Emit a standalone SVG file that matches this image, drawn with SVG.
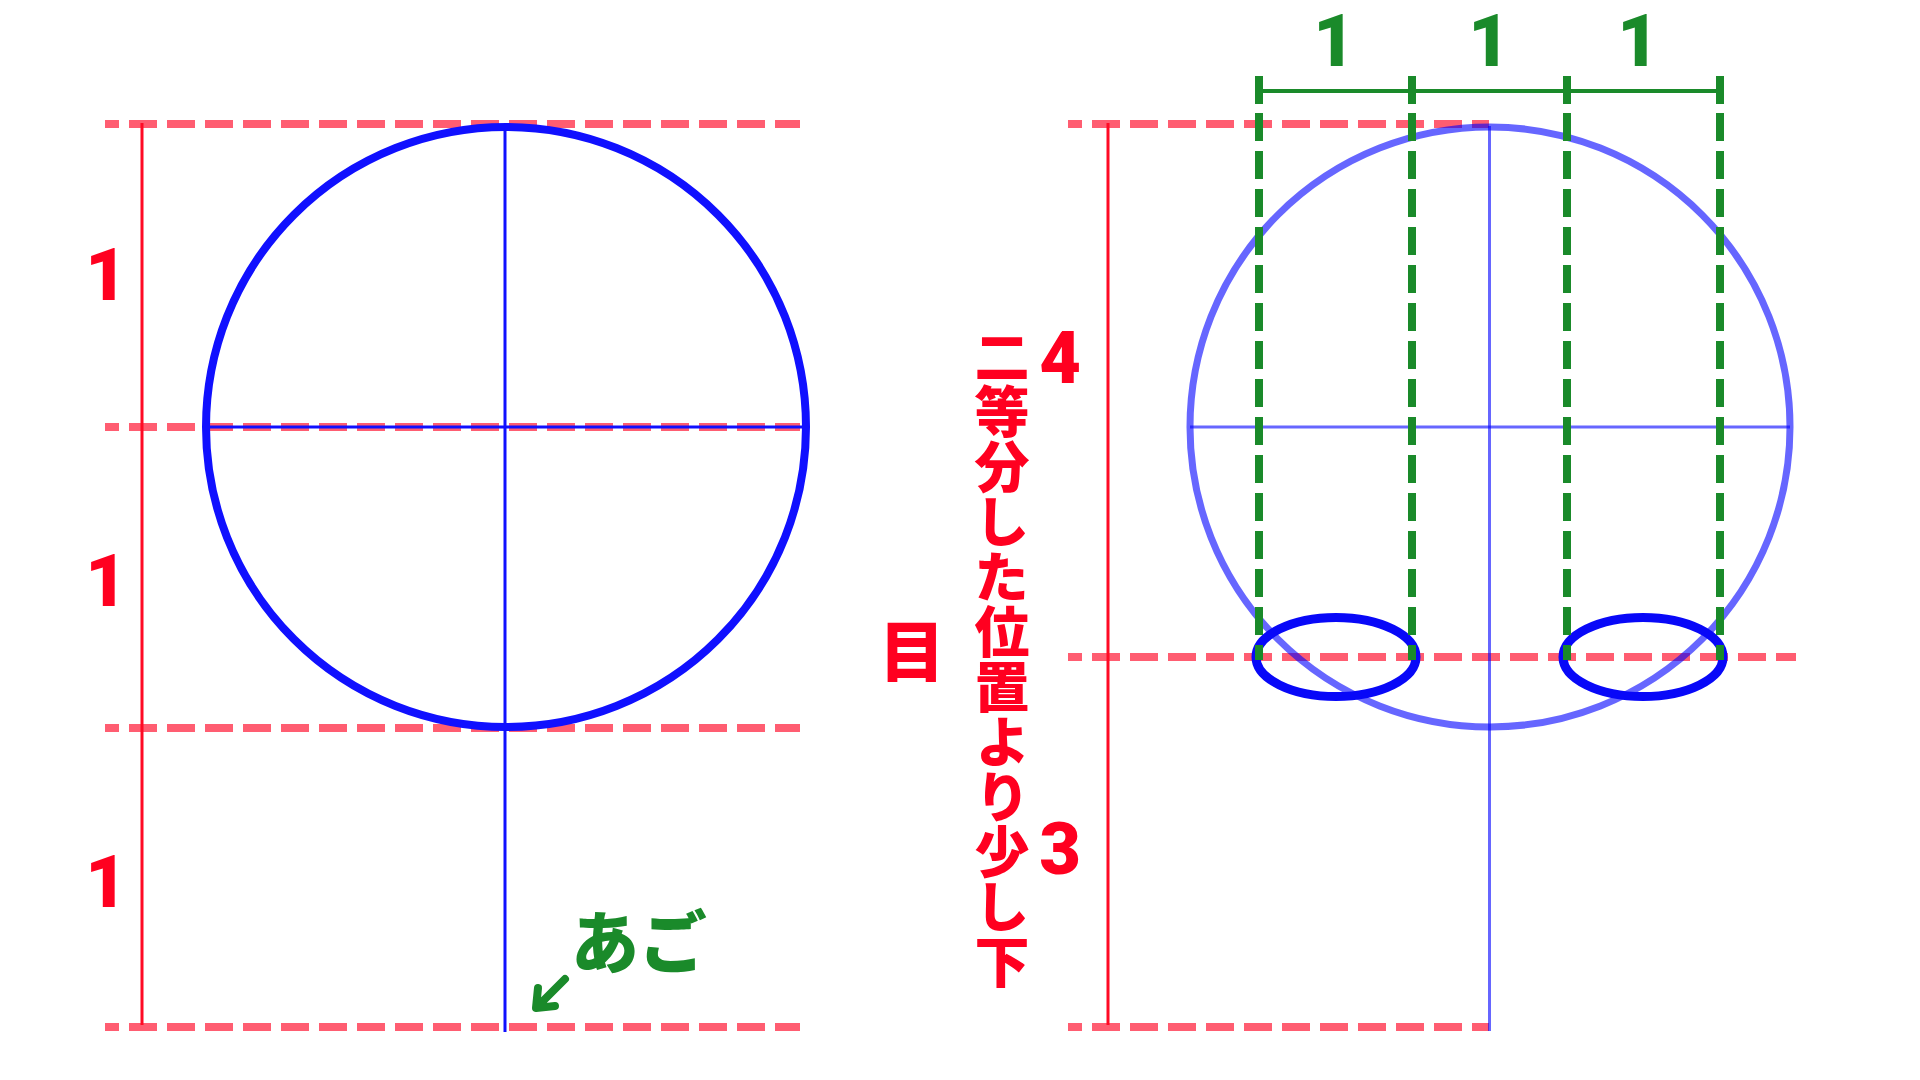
<svg xmlns="http://www.w3.org/2000/svg" width="1920" height="1080" viewBox="0 0 1920 1080">
<style>
.bg{fill:#ffffff}
.guide{stroke:#ff1f3a;stroke-opacity:0.72;stroke-width:8;stroke-dasharray:28 10;stroke-dashoffset:14;fill:none}
.ruler{stroke:#ff0a24;stroke-width:3;fill:none}
.blue{stroke:#1010ff;fill:none}
.lblue{stroke:#0000ff;stroke-opacity:0.6;fill:none}
.eye{stroke:#0808f8;stroke-width:9;fill:none}
.gdash{stroke:#1a8a2a;stroke-width:8;stroke-dasharray:28 10;fill:none}
.gline{stroke:#1a8a2a;fill:none}
.num{font-family:Roboto,"Noto Sans",sans-serif;font-weight:900;font-size:72px}
.red{fill:#ff0020}
.green{fill:#1a8a2a}
.jp{font-family:"Noto Sans CJK JP",sans-serif;font-weight:900}
</style>
<rect class="bg" x="0" y="0" width="1920" height="1080"/>

<g id="left-figure">
  <g id="left-guides">
    <line class="guide" x1="105" y1="124" x2="800" y2="124"/>
    <line class="guide" x1="105" y1="427" x2="800" y2="427"/>
    <line class="guide" x1="105" y1="728" x2="800" y2="728"/>
    <line class="guide" x1="105" y1="1027" x2="800" y2="1027"/>
  </g>
  <line id="left-ruler" class="ruler" x1="142" y1="123" x2="142" y2="1025"/>
  <g id="left-head">
    <line class="blue" stroke-width="3" x1="206" y1="427" x2="806" y2="427"/>
    <line class="blue" stroke-width="3" x1="505" y1="127" x2="505" y2="1032"/>
    <circle class="blue" stroke-width="8" cx="506" cy="427" r="300"/>
  </g>
  <g id="left-labels">
    <text class="num red" x="106" y="300" text-anchor="middle">1</text>
    <text class="num red" x="106" y="606" text-anchor="middle">1</text>
    <text class="num red" x="106" y="907" text-anchor="middle">1</text>
  </g>
  <g id="chin-label">
    <text class="jp green" x="571" y="968" font-size="68">あご</text>
    <path class="gline" stroke-width="8" stroke-linecap="round" stroke-linejoin="round" d="M565,979 L537,1007 M538,988 L536,1008 L555,1006"/>
  </g>
</g>

<g id="right-figure">
  <g id="right-guides">
    <line class="guide" x1="1068" y1="124" x2="1489" y2="124"/>
    <line class="guide" x1="1068" y1="657" x2="1796" y2="657"/>
    <line class="guide" x1="1068" y1="1027" x2="1489" y2="1027"/>
  </g>
  <line id="right-ruler" class="ruler" x1="1108" y1="123" x2="1108" y2="1025"/>
  <g id="right-head">
    <line class="lblue" stroke-width="3" x1="1190" y1="427" x2="1790" y2="427"/>
    <line class="lblue" stroke-width="3" x1="1489.5" y1="126" x2="1489.5" y2="1031"/>
    <circle class="lblue" stroke-width="7" cx="1490" cy="427" r="300"/>
  </g>
  <g id="eyes">
    <ellipse id="eye-left" class="eye" cx="1336" cy="657" rx="80" ry="39.5"/>
    <ellipse id="eye-right" class="eye" cx="1643" cy="657" rx="80" ry="39.5"/>
  </g>
  <g id="thirds">
    <line class="gline" stroke-width="4" x1="1259" y1="91" x2="1720" y2="91"/>
    <line class="gline" stroke-width="8" x1="1259" y1="76" x2="1259" y2="104"/>
    <line class="gline" stroke-width="8" x1="1412" y1="76" x2="1412" y2="104"/>
    <line class="gline" stroke-width="8" x1="1567" y1="76" x2="1567" y2="104"/>
    <line class="gline" stroke-width="8" x1="1720" y1="76" x2="1720" y2="104"/>
    <line class="gdash" x1="1259" y1="113" x2="1259" y2="660"/>
    <line class="gdash" x1="1412" y1="113" x2="1412" y2="660"/>
    <line class="gdash" x1="1567" y1="113" x2="1567" y2="660"/>
    <line class="gdash" x1="1720" y1="113" x2="1720" y2="660"/>
    <text class="num green" x="1334" y="66" text-anchor="middle">1</text>
    <text class="num green" x="1489" y="66" text-anchor="middle">1</text>
    <text class="num green" x="1638" y="66" text-anchor="middle">1</text>
  </g>
  <g id="right-labels">
    <text class="num red" x="1060" y="383" text-anchor="middle">4</text>
    <text class="num red" x="1060" y="874" text-anchor="middle">3</text>
    <text class="jp red" x="912" y="676" font-size="66" text-anchor="middle">目</text>
    <text class="jp red" x="1002" y="329" font-size="55" writing-mode="vertical-rl">二等分した位置より少し下</text>
  </g>
</g>
</svg>
